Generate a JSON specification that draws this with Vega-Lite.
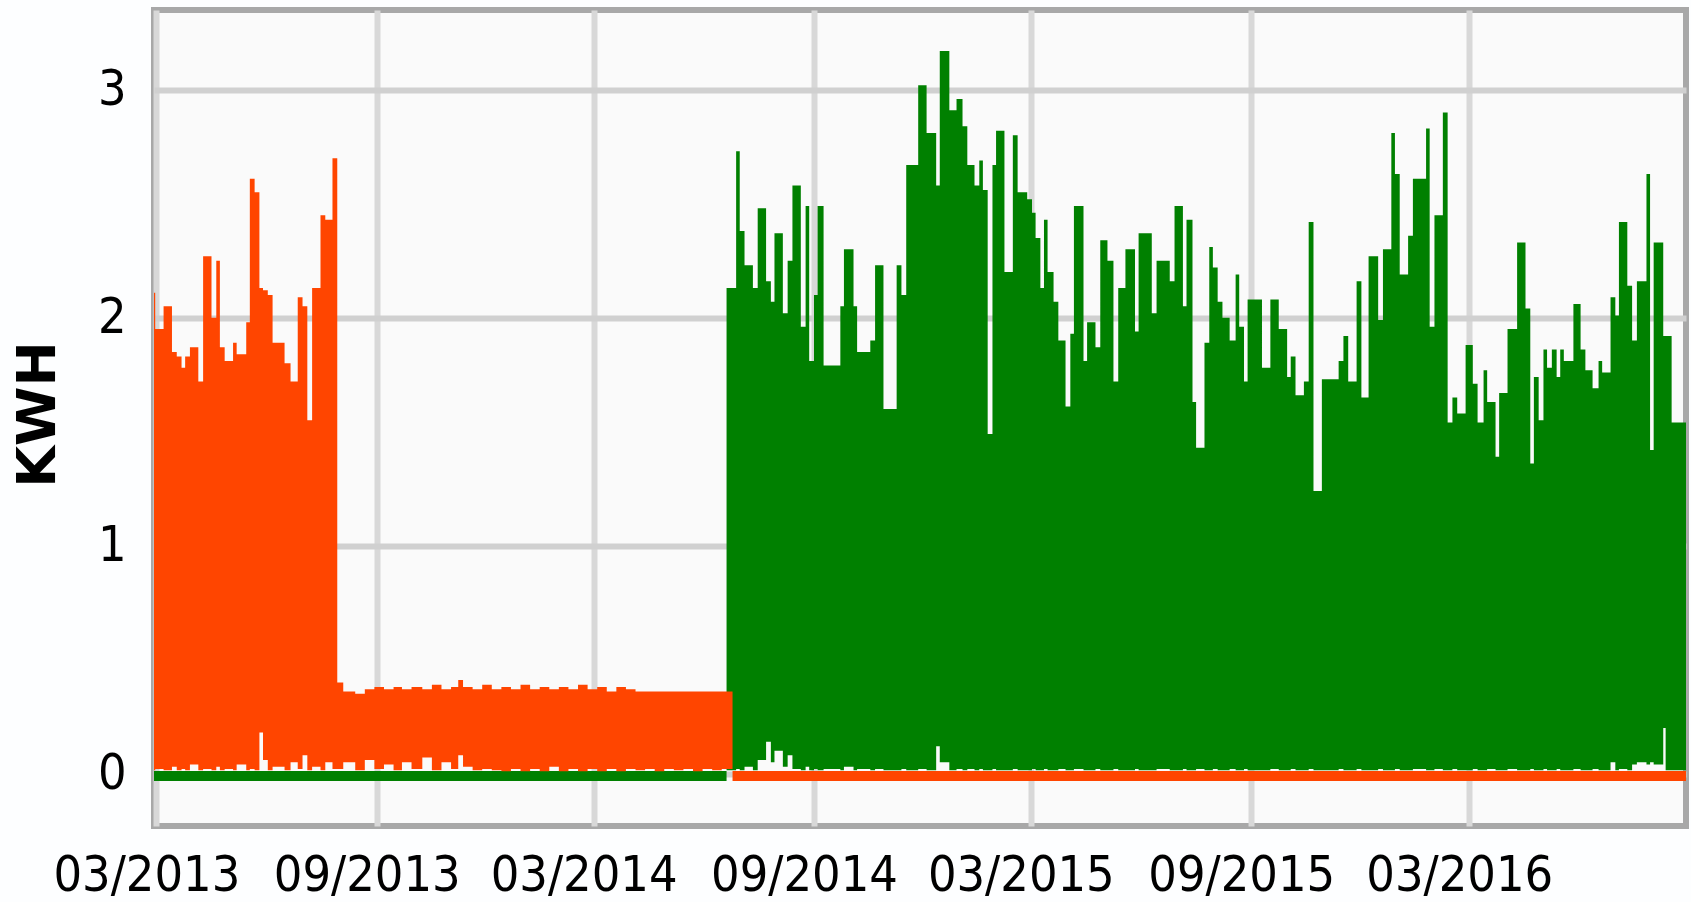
{
  "$schema": "https://vega.github.io/schema/vega-lite/v6.json",
  "autosize": {"type": "none"},
  "padding": {"left": 154, "top": 10, "right": 5, "bottom": 76},
  "width": 1532,
  "height": 816,
  "background": "#FDFEFF",
  "config": {
    "view": {"fill": "#FAFAFA", "stroke": "#A8A8A8", "strokeWidth": 6},
    "axis": {"labelFont": "DejaVu Sans Condensed, Roboto, sans-serif", "labelFontSize": 50, "labelColor": "#000000", "labelLimit": 0, "ticks": false, "domain": false}
  },
  "datasets": {
    "orange": [
      {"d": "2013-02-27", "hi": 2.11, "lo": 0.015},
      {"d": "2013-02-28", "hi": 1.95, "lo": 0.02},
      {"d": "2013-03-07", "hi": 2.05, "lo": 0.015},
      {"d": "2013-03-14", "hi": 1.85, "lo": 0.03},
      {"d": "2013-03-18", "hi": 1.83, "lo": 0.015},
      {"d": "2013-03-22", "hi": 1.78, "lo": 0.02},
      {"d": "2013-03-25", "hi": 1.83, "lo": 0.015},
      {"d": "2013-03-29", "hi": 1.87, "lo": 0.04},
      {"d": "2013-04-05", "hi": 1.72, "lo": 0.015},
      {"d": "2013-04-09", "hi": 2.27, "lo": 0.02},
      {"d": "2013-04-16", "hi": 2.0, "lo": 0.015},
      {"d": "2013-04-20", "hi": 2.25, "lo": 0.03},
      {"d": "2013-04-23", "hi": 1.87, "lo": 0.015},
      {"d": "2013-04-27", "hi": 1.81, "lo": 0.02},
      {"d": "2013-05-04", "hi": 1.89, "lo": 0.015},
      {"d": "2013-05-07", "hi": 1.84, "lo": 0.04},
      {"d": "2013-05-15", "hi": 1.98, "lo": 0.015},
      {"d": "2013-05-18", "hi": 2.61, "lo": 0.02},
      {"d": "2013-05-22", "hi": 2.55, "lo": 0.015},
      {"d": "2013-05-26", "hi": 2.13, "lo": 0.18},
      {"d": "2013-05-29", "hi": 2.12, "lo": 0.06},
      {"d": "2013-06-02", "hi": 2.10, "lo": 0.015},
      {"d": "2013-06-06", "hi": 1.89, "lo": 0.03},
      {"d": "2013-06-16", "hi": 1.80, "lo": 0.015},
      {"d": "2013-06-21", "hi": 1.72, "lo": 0.05},
      {"d": "2013-06-27", "hi": 2.09, "lo": 0.02},
      {"d": "2013-07-01", "hi": 2.05, "lo": 0.08},
      {"d": "2013-07-05", "hi": 1.55, "lo": 0.015},
      {"d": "2013-07-09", "hi": 2.13, "lo": 0.03},
      {"d": "2013-07-16", "hi": 2.45, "lo": 0.015},
      {"d": "2013-07-20", "hi": 2.43, "lo": 0.05},
      {"d": "2013-07-26", "hi": 2.70, "lo": 0.02},
      {"d": "2013-07-30", "hi": 0.40, "lo": 0.02},
      {"d": "2013-08-04", "hi": 0.36, "lo": 0.05},
      {"d": "2013-08-14", "hi": 0.35, "lo": 0.015},
      {"d": "2013-08-22", "hi": 0.37, "lo": 0.06},
      {"d": "2013-08-30", "hi": 0.38, "lo": 0.02},
      {"d": "2013-09-07", "hi": 0.37, "lo": 0.04},
      {"d": "2013-09-15", "hi": 0.38, "lo": 0.015},
      {"d": "2013-09-22", "hi": 0.37, "lo": 0.05},
      {"d": "2013-09-30", "hi": 0.38, "lo": 0.02},
      {"d": "2013-10-09", "hi": 0.37, "lo": 0.07},
      {"d": "2013-10-17", "hi": 0.39, "lo": 0.015},
      {"d": "2013-10-25", "hi": 0.37, "lo": 0.05},
      {"d": "2013-11-02", "hi": 0.38, "lo": 0.02},
      {"d": "2013-11-08", "hi": 0.41, "lo": 0.08},
      {"d": "2013-11-12", "hi": 0.38, "lo": 0.03},
      {"d": "2013-11-20", "hi": 0.37, "lo": 0.015},
      {"d": "2013-11-28", "hi": 0.39, "lo": 0.02},
      {"d": "2013-12-06", "hi": 0.37, "lo": 0.015},
      {"d": "2013-12-14", "hi": 0.38, "lo": 0.01},
      {"d": "2013-12-22", "hi": 0.37, "lo": 0.02},
      {"d": "2013-12-30", "hi": 0.39, "lo": 0.01},
      {"d": "2014-01-07", "hi": 0.37, "lo": 0.02},
      {"d": "2014-01-15", "hi": 0.38, "lo": 0.01},
      {"d": "2014-01-23", "hi": 0.37, "lo": 0.03},
      {"d": "2014-01-31", "hi": 0.38, "lo": 0.01},
      {"d": "2014-02-08", "hi": 0.37, "lo": 0.02},
      {"d": "2014-02-16", "hi": 0.39, "lo": 0.01},
      {"d": "2014-02-24", "hi": 0.37, "lo": 0.02},
      {"d": "2014-03-04", "hi": 0.38, "lo": 0.01},
      {"d": "2014-03-12", "hi": 0.36, "lo": 0.02},
      {"d": "2014-03-20", "hi": 0.38, "lo": 0.01},
      {"d": "2014-03-28", "hi": 0.37, "lo": 0.02},
      {"d": "2014-04-05", "hi": 0.36, "lo": 0.015},
      {"d": "2014-04-13", "hi": 0.36, "lo": 0.02},
      {"d": "2014-04-21", "hi": 0.36, "lo": 0.01},
      {"d": "2014-04-29", "hi": 0.36, "lo": 0.02},
      {"d": "2014-05-07", "hi": 0.36, "lo": 0.015},
      {"d": "2014-05-15", "hi": 0.36, "lo": 0.02},
      {"d": "2014-05-23", "hi": 0.36, "lo": 0.01},
      {"d": "2014-05-31", "hi": 0.36, "lo": 0.02},
      {"d": "2014-06-08", "hi": 0.36, "lo": 0.015},
      {"d": "2014-06-16", "hi": 0.36, "lo": 0.02},
      {"d": "2014-06-25", "hi": 0.011, "lo": -0.033},
      {"d": "2016-08-29", "hi": 0.011, "lo": -0.033}
    ],
    "green": [
      {"d": "2013-02-27", "hi": 0.011, "lo": -0.033},
      {"d": "2014-06-20", "hi": 2.13, "lo": 0.015},
      {"d": "2014-06-28", "hi": 2.73, "lo": 0.02},
      {"d": "2014-07-01", "hi": 2.38, "lo": 0.015},
      {"d": "2014-07-05", "hi": 2.23, "lo": 0.03},
      {"d": "2014-07-12", "hi": 2.13, "lo": 0.015},
      {"d": "2014-07-16", "hi": 2.48, "lo": 0.06},
      {"d": "2014-07-23", "hi": 2.16, "lo": 0.14},
      {"d": "2014-07-27", "hi": 2.07, "lo": 0.05},
      {"d": "2014-07-30", "hi": 2.37, "lo": 0.1},
      {"d": "2014-08-06", "hi": 2.02, "lo": 0.03},
      {"d": "2014-08-10", "hi": 2.25, "lo": 0.08},
      {"d": "2014-08-14", "hi": 2.58, "lo": 0.02},
      {"d": "2014-08-21", "hi": 1.96, "lo": 0.015},
      {"d": "2014-08-25", "hi": 2.49, "lo": 0.03},
      {"d": "2014-08-28", "hi": 1.81, "lo": 0.015},
      {"d": "2014-09-01", "hi": 2.10, "lo": 0.02},
      {"d": "2014-09-04", "hi": 2.49, "lo": 0.015},
      {"d": "2014-09-09", "hi": 1.79, "lo": 0.02},
      {"d": "2014-09-23", "hi": 2.05, "lo": 0.015},
      {"d": "2014-09-26", "hi": 2.30, "lo": 0.03},
      {"d": "2014-10-04", "hi": 2.05, "lo": 0.015},
      {"d": "2014-10-07", "hi": 1.85, "lo": 0.02},
      {"d": "2014-10-18", "hi": 1.90, "lo": 0.015},
      {"d": "2014-10-22", "hi": 2.23, "lo": 0.02},
      {"d": "2014-10-29", "hi": 1.60, "lo": 0.015},
      {"d": "2014-11-09", "hi": 2.23, "lo": 0.015},
      {"d": "2014-11-13", "hi": 2.10, "lo": 0.02},
      {"d": "2014-11-17", "hi": 2.67, "lo": 0.015},
      {"d": "2014-11-27", "hi": 3.02, "lo": 0.02},
      {"d": "2014-12-04", "hi": 2.81, "lo": 0.015},
      {"d": "2014-12-12", "hi": 2.58, "lo": 0.12},
      {"d": "2014-12-15", "hi": 3.17, "lo": 0.05},
      {"d": "2014-12-23", "hi": 2.91, "lo": 0.015},
      {"d": "2014-12-29", "hi": 2.96, "lo": 0.02},
      {"d": "2015-01-03", "hi": 2.84, "lo": 0.015},
      {"d": "2015-01-07", "hi": 2.67, "lo": 0.02},
      {"d": "2015-01-13", "hi": 2.58, "lo": 0.015},
      {"d": "2015-01-17", "hi": 2.69, "lo": 0.02},
      {"d": "2015-01-20", "hi": 2.56, "lo": 0.015},
      {"d": "2015-01-24", "hi": 1.49, "lo": 0.015},
      {"d": "2015-01-28", "hi": 2.67, "lo": 0.02},
      {"d": "2015-01-31", "hi": 2.82, "lo": 0.015},
      {"d": "2015-02-07", "hi": 2.20, "lo": 0.015},
      {"d": "2015-02-14", "hi": 2.80, "lo": 0.02},
      {"d": "2015-02-18", "hi": 2.55, "lo": 0.015},
      {"d": "2015-02-26", "hi": 2.52, "lo": 0.015},
      {"d": "2015-03-02", "hi": 2.46, "lo": 0.02},
      {"d": "2015-03-05", "hi": 2.35, "lo": 0.015},
      {"d": "2015-03-09", "hi": 2.13, "lo": 0.015},
      {"d": "2015-03-12", "hi": 2.43, "lo": 0.02},
      {"d": "2015-03-15", "hi": 2.20, "lo": 0.015},
      {"d": "2015-03-20", "hi": 2.07, "lo": 0.015},
      {"d": "2015-03-24", "hi": 1.90, "lo": 0.02},
      {"d": "2015-03-30", "hi": 1.61, "lo": 0.015},
      {"d": "2015-04-03", "hi": 1.93, "lo": 0.015},
      {"d": "2015-04-06", "hi": 2.49, "lo": 0.02},
      {"d": "2015-04-14", "hi": 1.81, "lo": 0.015},
      {"d": "2015-04-17", "hi": 1.98, "lo": 0.015},
      {"d": "2015-04-24", "hi": 1.87, "lo": 0.02},
      {"d": "2015-04-28", "hi": 2.34, "lo": 0.015},
      {"d": "2015-05-04", "hi": 2.25, "lo": 0.015},
      {"d": "2015-05-09", "hi": 1.72, "lo": 0.02},
      {"d": "2015-05-13", "hi": 2.13, "lo": 0.015},
      {"d": "2015-05-19", "hi": 2.30, "lo": 0.015},
      {"d": "2015-05-27", "hi": 1.94, "lo": 0.02},
      {"d": "2015-05-30", "hi": 2.37, "lo": 0.015},
      {"d": "2015-06-10", "hi": 2.02, "lo": 0.015},
      {"d": "2015-06-14", "hi": 2.25, "lo": 0.02},
      {"d": "2015-06-25", "hi": 2.16, "lo": 0.015},
      {"d": "2015-06-29", "hi": 2.49, "lo": 0.015},
      {"d": "2015-07-06", "hi": 2.05, "lo": 0.02},
      {"d": "2015-07-09", "hi": 2.43, "lo": 0.015},
      {"d": "2015-07-14", "hi": 1.63, "lo": 0.015},
      {"d": "2015-07-17", "hi": 1.43, "lo": 0.02},
      {"d": "2015-07-24", "hi": 1.89, "lo": 0.015},
      {"d": "2015-07-28", "hi": 2.31, "lo": 0.015},
      {"d": "2015-07-31", "hi": 2.22, "lo": 0.02},
      {"d": "2015-08-04", "hi": 2.07, "lo": 0.015},
      {"d": "2015-08-08", "hi": 2.00, "lo": 0.015},
      {"d": "2015-08-14", "hi": 1.90, "lo": 0.02},
      {"d": "2015-08-19", "hi": 2.19, "lo": 0.015},
      {"d": "2015-08-22", "hi": 1.96, "lo": 0.015},
      {"d": "2015-08-26", "hi": 1.72, "lo": 0.02},
      {"d": "2015-08-29", "hi": 2.08, "lo": 0.015},
      {"d": "2015-09-10", "hi": 1.78, "lo": 0.015},
      {"d": "2015-09-17", "hi": 2.08, "lo": 0.02},
      {"d": "2015-09-24", "hi": 1.95, "lo": 0.015},
      {"d": "2015-10-01", "hi": 1.74, "lo": 0.015},
      {"d": "2015-10-04", "hi": 1.83, "lo": 0.02},
      {"d": "2015-10-08", "hi": 1.66, "lo": 0.015},
      {"d": "2015-10-15", "hi": 1.72, "lo": 0.015},
      {"d": "2015-10-19", "hi": 2.42, "lo": 0.02},
      {"d": "2015-10-23", "hi": 1.24, "lo": 0.015},
      {"d": "2015-10-30", "hi": 1.73, "lo": 0.015},
      {"d": "2015-11-13", "hi": 1.81, "lo": 0.02},
      {"d": "2015-11-17", "hi": 1.92, "lo": 0.015},
      {"d": "2015-11-21", "hi": 1.72, "lo": 0.015},
      {"d": "2015-11-28", "hi": 2.16, "lo": 0.02},
      {"d": "2015-12-02", "hi": 1.65, "lo": 0.015},
      {"d": "2015-12-08", "hi": 2.27, "lo": 0.015},
      {"d": "2015-12-16", "hi": 1.99, "lo": 0.02},
      {"d": "2015-12-20", "hi": 2.30, "lo": 0.015},
      {"d": "2015-12-27", "hi": 2.81, "lo": 0.015},
      {"d": "2015-12-30", "hi": 2.63, "lo": 0.02},
      {"d": "2016-01-03", "hi": 2.19, "lo": 0.015},
      {"d": "2016-01-10", "hi": 2.36, "lo": 0.015},
      {"d": "2016-01-14", "hi": 2.61, "lo": 0.02},
      {"d": "2016-01-25", "hi": 2.83, "lo": 0.015},
      {"d": "2016-01-28", "hi": 1.96, "lo": 0.015},
      {"d": "2016-02-01", "hi": 2.45, "lo": 0.02},
      {"d": "2016-02-08", "hi": 2.90, "lo": 0.015},
      {"d": "2016-02-12", "hi": 1.54, "lo": 0.015},
      {"d": "2016-02-16", "hi": 1.65, "lo": 0.02},
      {"d": "2016-02-20", "hi": 1.58, "lo": 0.015},
      {"d": "2016-02-27", "hi": 1.88, "lo": 0.015},
      {"d": "2016-03-04", "hi": 1.71, "lo": 0.02},
      {"d": "2016-03-08", "hi": 1.54, "lo": 0.015},
      {"d": "2016-03-13", "hi": 1.77, "lo": 0.015},
      {"d": "2016-03-16", "hi": 1.63, "lo": 0.02},
      {"d": "2016-03-23", "hi": 1.39, "lo": 0.015},
      {"d": "2016-03-26", "hi": 1.67, "lo": 0.015},
      {"d": "2016-04-02", "hi": 1.95, "lo": 0.02},
      {"d": "2016-04-10", "hi": 2.33, "lo": 0.015},
      {"d": "2016-04-17", "hi": 2.04, "lo": 0.015},
      {"d": "2016-04-21", "hi": 1.36, "lo": 0.02},
      {"d": "2016-04-24", "hi": 1.74, "lo": 0.015},
      {"d": "2016-04-28", "hi": 1.55, "lo": 0.015},
      {"d": "2016-05-02", "hi": 1.86, "lo": 0.02},
      {"d": "2016-05-05", "hi": 1.78, "lo": 0.015},
      {"d": "2016-05-09", "hi": 1.86, "lo": 0.015},
      {"d": "2016-05-13", "hi": 1.74, "lo": 0.02},
      {"d": "2016-05-16", "hi": 1.86, "lo": 0.015},
      {"d": "2016-05-19", "hi": 1.81, "lo": 0.015},
      {"d": "2016-05-27", "hi": 2.06, "lo": 0.02},
      {"d": "2016-06-02", "hi": 1.86, "lo": 0.015},
      {"d": "2016-06-06", "hi": 1.77, "lo": 0.015},
      {"d": "2016-06-12", "hi": 1.69, "lo": 0.02},
      {"d": "2016-06-17", "hi": 1.81, "lo": 0.015},
      {"d": "2016-06-20", "hi": 1.76, "lo": 0.015},
      {"d": "2016-06-27", "hi": 2.09, "lo": 0.05},
      {"d": "2016-07-01", "hi": 2.01, "lo": 0.015},
      {"d": "2016-07-04", "hi": 2.42, "lo": 0.02},
      {"d": "2016-07-11", "hi": 2.14, "lo": 0.015},
      {"d": "2016-07-15", "hi": 1.90, "lo": 0.04},
      {"d": "2016-07-19", "hi": 2.16, "lo": 0.05},
      {"d": "2016-07-27", "hi": 2.63, "lo": 0.04},
      {"d": "2016-07-30", "hi": 1.42, "lo": 0.05},
      {"d": "2016-08-02", "hi": 2.33, "lo": 0.04},
      {"d": "2016-08-10", "hi": 1.92, "lo": 0.2},
      {"d": "2016-08-12", "hi": 1.92, "lo": 0.015},
      {"d": "2016-08-17", "hi": 1.54, "lo": 0.015},
      {"d": "2016-08-29", "hi": 1.54, "lo": 0.015}
    ]
  },
  "encoding": {
    "x": {
      "field": "d",
      "type": "temporal",
      "scale": {"domain": [{"year": 2013, "month": 2, "date": 27}, {"year": 2016, "month": 8, "date": 29}], "nice": false},
      "axis": {
        "title": null,
        "values": [
          {"year": 2013, "month": 3, "date": 1},
          {"year": 2013, "month": 9, "date": 1},
          {"year": 2014, "month": 3, "date": 1},
          {"year": 2014, "month": 9, "date": 1},
          {"year": 2015, "month": 3, "date": 1},
          {"year": 2015, "month": 9, "date": 1},
          {"year": 2016, "month": 3, "date": 1}
        ],
        "format": "%m/%Y",
        "formatType": "time",
        "grid": true,
        "gridColor": "#D8D8D8",
        "gridWidth": 6,
        "labelPadding": 24,
        "labelOffset": -10,
        "labelOverlap": false,
        "labelFlush": false,
        "labelBound": false
      }
    },
    "y": {
      "field": "hi",
      "type": "quantitative",
      "scale": {"domain": [-0.23, 3.35], "nice": false, "zero": false},
      "axis": {
        "values": [0, 1, 2, 3],
        "format": "d",
        "grid": true,
        "gridColor": "#D0D0D0",
        "gridWidth": 6,
        "labelPadding": 28,
        "title": "KWH",
        "titleFont": "DejaVu Sans",
        "titleFontWeight": "bold",
        "titleFontSize": 54,
        "titleColor": "#000000",
        "titleAngle": -90,
        "titleAlign": "center",
        "titleBaseline": "middle",
        "titleX": -116,
        "titleY": 404
      }
    },
    "y2": {"field": "lo"}
  },
  "layer": [
    {"data": {"name": "green"}, "mark": {"type": "area", "color": "#008000", "interpolate": "step-after", "clip": true, "opacity": 1}},
    {"data": {"name": "orange"}, "mark": {"type": "area", "color": "#FF4500", "interpolate": "step-after", "clip": true, "opacity": 1}}
  ]
}
